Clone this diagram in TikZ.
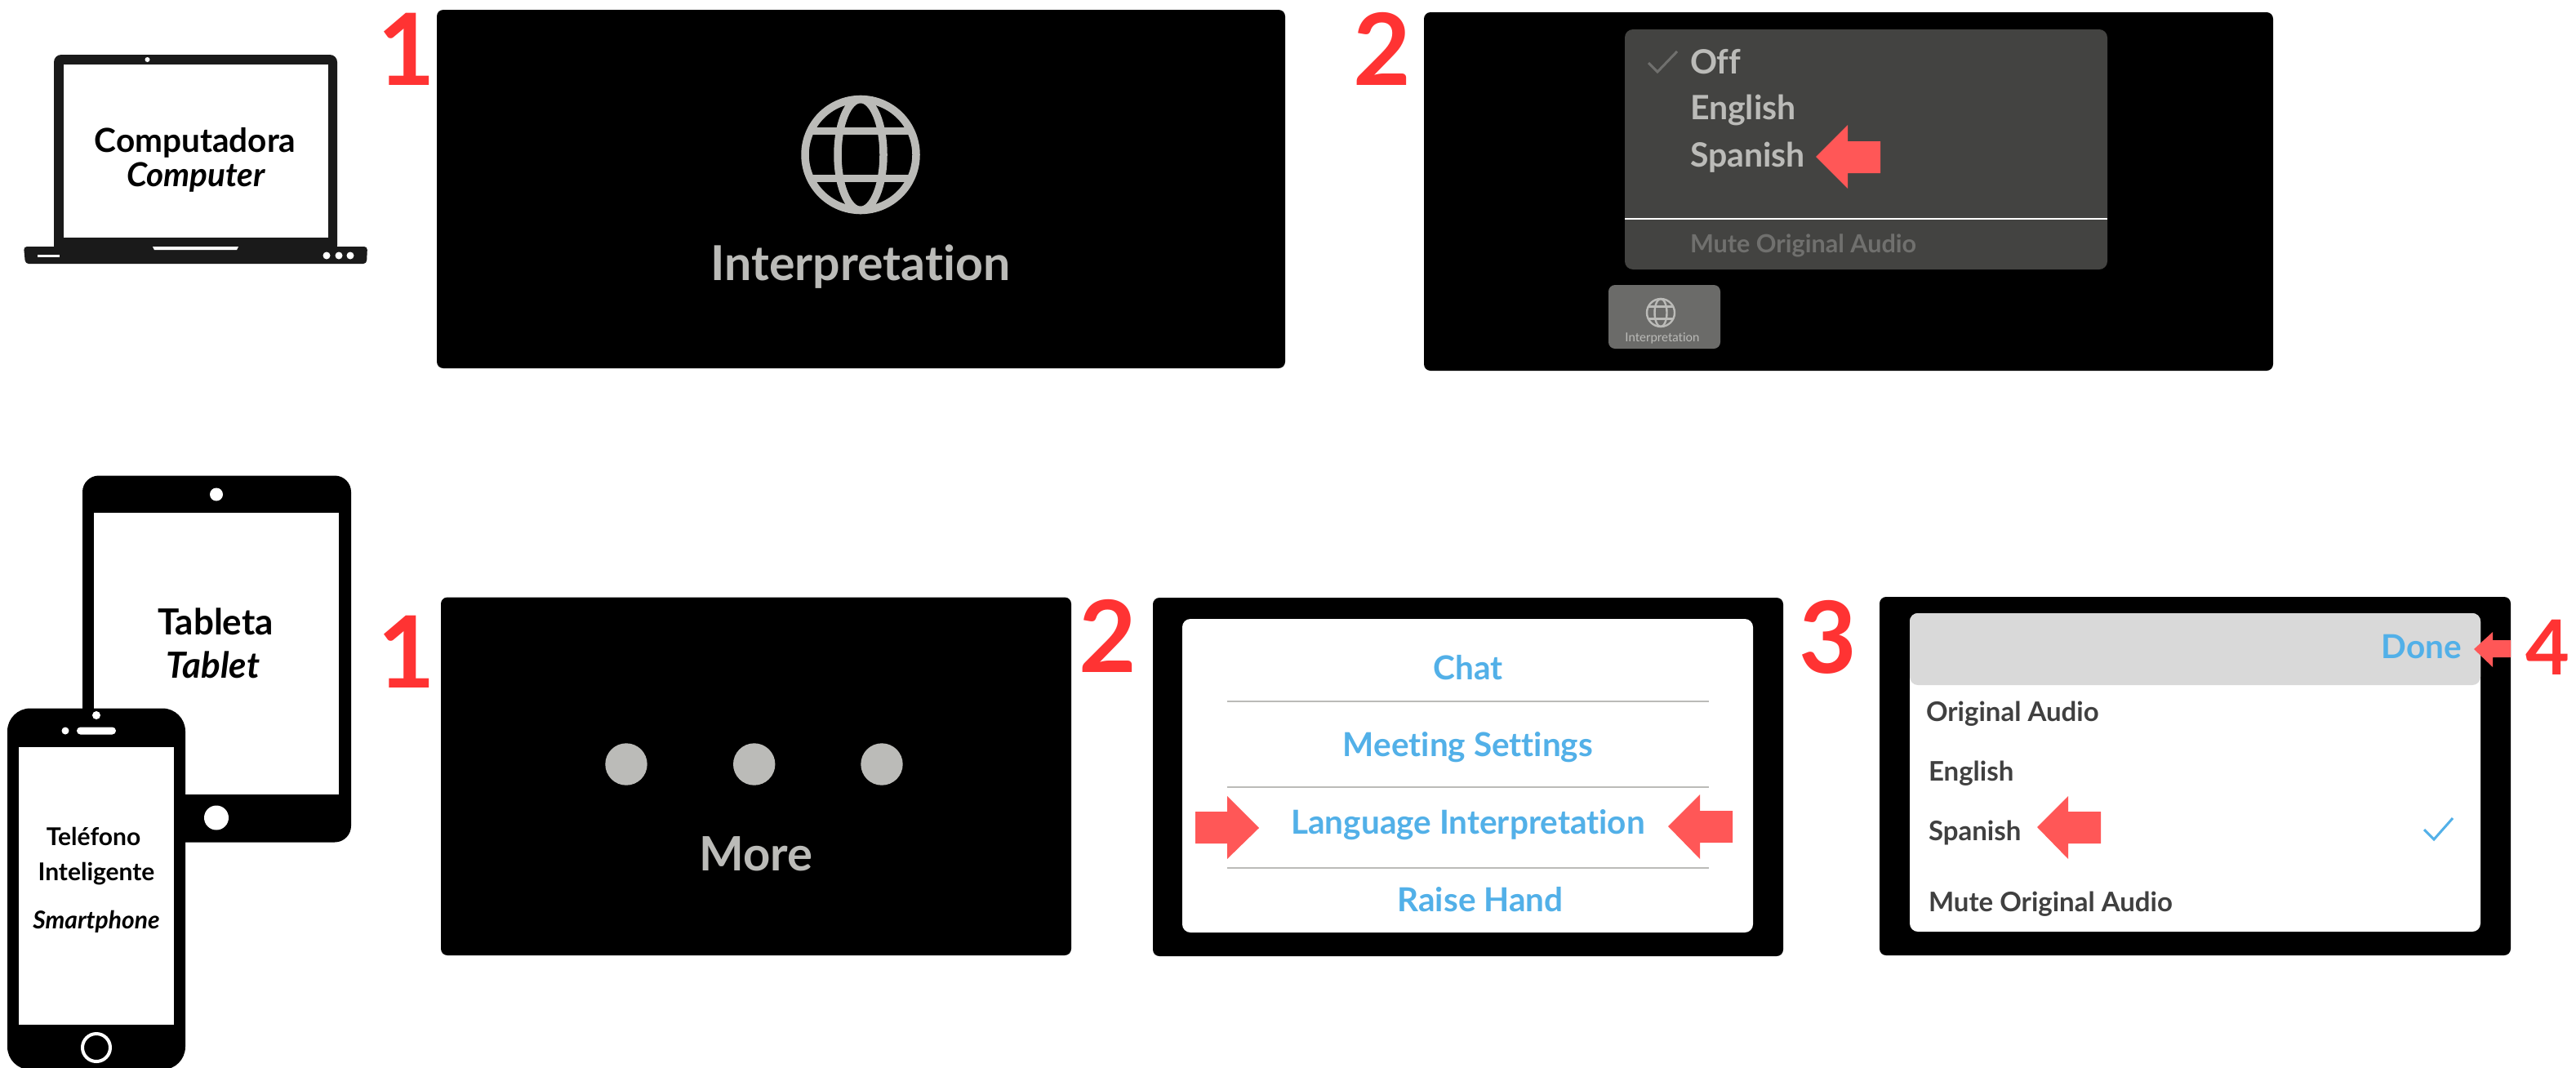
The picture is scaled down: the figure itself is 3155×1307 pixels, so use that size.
\documentclass[tikz,border=0pt]{standalone}
\usepackage{fontspec}
\setmainfont{Lato}[Ligatures=NoCommon]
\newcommand{\fs}[1]{\fontsize{#1}{#1}\selectfont}
\definecolor{numred}{HTML}{FF3333}
\definecolor{arrowred}{HTML}{FF5757}
\definecolor{linkblue}{HTML}{52B0E8}
\definecolor{dimgrey}{HTML}{BBBBB8}
\definecolor{menugrey}{HTML}{434341}
\definecolor{mutegrey}{HTML}{70706E}
\definecolor{btngrey}{HTML}{6B6B69}
\definecolor{itemdark}{HTML}{404040}
\definecolor{laptopblack}{HTML}{1A1A1A}
\tikzset{
 x=1pt,y=-1pt,
 txt/.style={inner sep=0pt,outer sep=0pt,anchor=base},
 txtl/.style={inner sep=0pt,outer sep=0pt,anchor=base west},
 num/.style={txt,text=numred,font=\fs{122}\bfseries},
 panel/.style={fill=black,rounded corners=8pt},
 redarrow/.style={fill=arrowred},
 link/.style={txt,text=linkblue,font=\fs{40.5}\bfseries},
 item/.style={txtl,text=itemdark,font=\fs{33}\bfseries},
 rule/.style={draw=#1,line width=2.5pt},
 globe/.style={draw=dimgrey,fill=none},
}
\begin{document}
\begin{tikzpicture}
\useasboundingbox (0,0) rectangle (3155,1307);
\fill[white] (0,0) rectangle (3155,1307);
% laptop
\fill[laptopblack,rounded corners=9pt] (66,67) rectangle (413,310);
\fill[laptopblack,rounded corners=4pt] (29,302) -- (450,302) -- (449,323) -- (31,323) -- cycle;
\fill[white] (78,79) rectangle (402,291);
\fill[white] (187,302) -- (292,302) -- (290,306) -- (189,306) -- cycle;
\fill[white] (46,311.5) rectangle (73,314.5);
\fill[white] (400,313) circle (4.5) (415,313) circle (4.5) (429,313) circle (4.5);
\fill[white] (180.5,73) circle (3);
\node[txt,font=\fs{40.5}\bfseries] (comp) at (239,186) {Computadora};
\node[txt,font=\fs{40.5}\bfseries\itshape] (compen) at (240,228) {Computer};
% first row
\node[num] (a1) at (498,104) {1};
\fill[panel] (535,12) rectangle (1574,451);
\begin{scope}[globe,line width=9.5pt]
 \draw (1054,189.5) circle (68);
 \draw (1054,189.5) ellipse (28 and 68);
 \draw (992.5,160.5) -- (1115.5,160.5);
 \draw (992.5,218.5) -- (1115.5,218.5);
\end{scope}
\node[txt,text=dimgrey,font=\fs{59}\bfseries] (interp) at (1054,343) {Interpretation};
\node[num] (a2) at (1693,104) {2};
\fill[panel] (1744,15) rectangle (2784,454);
\fill[menugrey,rounded corners=10pt] (1990,36) rectangle (2581,330);
\draw[mutegrey,line width=3pt] (2019,77) -- (2030,88) -- (2054,63);
\node[txtl,text=dimgrey,font=\fs{41}\bfseries] (off) at (2070,90) {Off};
\node[txtl,text=dimgrey,font=\fs{41}\bfseries] (eng) at (2070,146) {English};
\node[txtl,text=dimgrey,font=\fs{41}\bfseries] (spa) at (2070,204) {Spanish};
\fill[redarrow] (2224,192) -- (2263,153) -- (2263,173) -- (2303,173) -- (2303,212) -- (2263,212) -- (2263,231) -- cycle;
\draw[white,line width=2.5pt] (1990,268) -- (2581,268);
\node[txtl,text=mutegrey,font=\fs{30.6}\bfseries] (mute) at (2070,309) {Mute Original Audio};
\fill[btngrey,rounded corners=8pt] (1970,349) rectangle (2107,427);
\begin{scope}[globe,line width=2.4pt]
 \draw (2034,383) circle (17);
 \draw (2034,383) ellipse (7.5 and 17);
 \draw (2018.5,375.5) -- (2049.5,375.5);
 \draw (2018.5,390.5) -- (2049.5,390.5);
\end{scope}
\node[txt,text=dimgrey,font=\fs{15}] (ismall) at (2036,418) {Interpretation};
% tablet
\fill[black,rounded corners=20pt] (101,582.5) rectangle (430,1031.5);
\fill[white] (115,627.5) rectangle (415,972.5);
\fill[white] (265,605.5) circle (8);
\fill[white] (265,1001.5) circle (15);
\node[txt,font=\fs{44}\bfseries] (tab) at (264,777) {Tableta};
\node[txt,font=\fs{44}\bfseries\itshape] (taben) at (261,830) {Tablet};
% phone
\fill[black,rounded corners=28pt] (9,867.5) rectangle (227,1310);
\fill[white] (23,914.5) rectangle (213,1255);
\fill[white] (118,876) circle (5);
\fill[white] (80,895) circle (4.5);
\fill[white,rounded corners=4.5pt] (94,890.5) rectangle (142,899.5);
\draw[white,line width=4pt] (118,1283) circle (17);
\node[txt,font=\fs{30}\bfseries] (tel) at (114.5,1035) {Teléfono};
\node[txt,font=\fs{30}\bfseries] (intel) at (118,1078) {Inteligente};
\node[txt,font=\fs{30}\bfseries\itshape] (smart) at (118,1137) {Smartphone};
% second row
\node[num] (b1) at (498,842) {1};
\fill[panel] (540,731.5) rectangle (1312,1170);
\fill[dimgrey] (767,936) circle (25.7) (923.7,936) circle (25.7) (1080,936) circle (25.7);
\node[txt,text=dimgrey,font=\fs{58}\bfseries] (more) at (926,1066) {More};
\node[num] (b2) at (1357,823) {2};
\fill[panel] (1412,732) rectangle (2184,1171);
\fill[white,rounded corners=10pt] (1448,758) rectangle (2147,1142);
\draw[rule=dimgrey] (1503,859) -- (2093,859);
\draw[rule=dimgrey] (1503,964) -- (2093,964);
\draw[rule=dimgrey] (1503,1063) -- (2093,1063);
\node[link] (chat) at (1798,832) {Chat};
\node[link] (meet) at (1798,926) {Meeting Settings};
\node[link] (lang) at (1798,1021) {Language Interpretation};
\node[link] (raise) at (1813,1116) {Raise Hand};
\fill[redarrow] (1542,1014) -- (1503,975) -- (1503,994) -- (1464,994) -- (1464,1033) -- (1503,1033) -- (1503,1052) -- cycle;
\fill[redarrow] (2043,1012) -- (2082,973) -- (2082,993) -- (2122,993) -- (2122,1032) -- (2082,1032) -- (2082,1052) -- cycle;
\node[num] (b3) at (2239,824) {3};
\fill[panel] (2302,731) rectangle (3075,1170);
\fill[white,rounded corners=10pt] (2339,751) rectangle (3038,1141);
\fill[black!15,rounded corners=10pt] (2339,751) rectangle (3038,839);
\node[link,anchor=base east] (done) at (3015,806.5) {Done};
\fill[redarrow] (3030,795) -- (3053,774) -- (3053,784) -- (3075,784) -- (3075,805) -- (3053,805) -- (3053,817) -- cycle;
\node[txt,text=numred,font=\fs{93}\bfseries] (b4) at (3120,826) {4};
\node[item] (oa) at (2359,883) {Original Audio};
\node[item] (en2) at (2362,956) {English};
\node[item] (sp2) at (2362,1029) {Spanish};
\node[item] (mu2) at (2362,1116) {Mute Original Audio};
\fill[redarrow] (2495,1013) -- (2533,975) -- (2533,994) -- (2573,994) -- (2573,1033) -- (2533,1033) -- (2533,1052) -- cycle;
\draw[linkblue,line width=3pt] (2969,1016) -- (2981,1028) -- (3004,1002);
\end{tikzpicture}
\end{document}
